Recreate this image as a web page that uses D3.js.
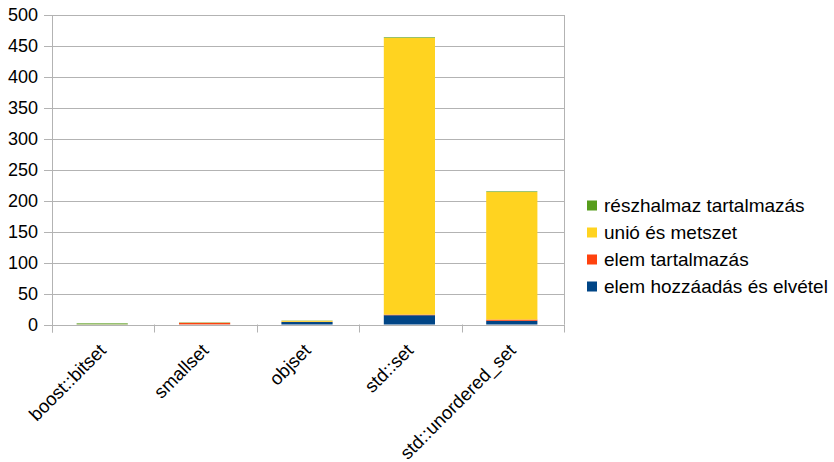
<!DOCTYPE html>
<html>
<head>
<meta charset="utf-8">
<script src="https://cdn.jsdelivr.net/npm/d3@7"></script>
<style>
  body { margin: 0; background: #fff; }
  text { font-family: "Liberation Sans", Arial, sans-serif; }
</style>
</head>
<body>
<svg id="chart" width="834" height="462"></svg>
<script>
// Categories and stacked series (bottom to top)
const categories = ["boost::bitset", "smallset", "objset", "std::set", "std::unordered_set"];
const seriesNames = ["elem hozzáadás és elvétel", "elem tartalmazás", "unió és metszet", "részhalmaz tartalmazás"];
const addRemove   = [0.1, 0.2, 4.0, 15.0, 6.0];
const contains    = [0.1, 2.5, 0.4, 1.0, 2.0];
const unionInter  = [0.1, 0.1, 1.5, 447.0, 206.0];
const subset      = [1.5, 0.5, 0.4, 1.0, 1.0];
const yTicks      = [0, 50, 100, 150, 200, 250, 300, 350, 400, 450, 500];
const colors      = ["#004586", "#ff420e", "#ffd320", "#579d1c"];

const seriesValues = [addRemove, contains, unionInter, subset];
const rows = categories.map((c, i) => {
  const r = { cat: c };
  seriesNames.forEach((s, j) => r[s] = seriesValues[j][i]);
  return r;
});

const svg = d3.select("#chart");
const pLeft = 52, pRight = 564, pTop = 15, pBottom = 324.5;

const x = d3.scaleBand().domain(categories).range([pLeft, pRight]).paddingInner(0.5).paddingOuter(0.25);
const y = d3.scaleLinear().domain([0, 500]).range([pBottom, pTop]);

// Gridlines
svg.append("g").selectAll("line").data(yTicks).join("line")
  .attr("x1", pLeft - 8).attr("x2", pRight)
  .attr("y1", d => Math.round(y(d)) + 0.5).attr("y2", d => Math.round(y(d)) + 0.5)
  .attr("stroke", "#b3b3b3").attr("stroke-width", 1);

// Right border
svg.append("line").attr("x1", pRight + 0.5).attr("x2", pRight + 0.5)
  .attr("y1", pTop).attr("y2", pBottom).attr("stroke", "#b3b3b3");

// Y axis labels
svg.append("g").selectAll("text").data(yTicks).join("text")
  .attr("x", pLeft - 14).attr("y", d => y(d)).attr("dy", "0.35em")
  .attr("text-anchor", "end").attr("font-size", 18).attr("fill", "#000")
  .text(d => d);

// Stacked bars
const stack = d3.stack().keys(seriesNames)(rows);
svg.append("g").selectAll("g").data(stack).join("g")
  .attr("fill", (d, i) => colors[i])
  .selectAll("rect").data(d => d).join("rect")
  .attr("x", d => x(d.data.cat) - 1)
  .attr("width", x.bandwidth())
  .attr("y", d => y(d[1]))
  .attr("height", d => y(d[0]) - y(d[1]));

// Y axis line and x axis with category ticks
svg.append("line").attr("x1", pLeft + 0.5).attr("x2", pLeft + 0.5)
  .attr("y1", pTop).attr("y2", pBottom + 8).attr("stroke", "#b3b3b3");
svg.append("line").attr("x1", pLeft).attr("x2", pRight + 1)
  .attr("y1", Math.round(pBottom) + 0.5).attr("y2", Math.round(pBottom) + 0.5).attr("stroke", "#b3b3b3");
const bounds = d3.range(categories.length + 1).map(i => pLeft + i * (pRight - pLeft) / categories.length);
svg.append("g").selectAll("line").data(bounds).join("line")
  .attr("x1", d => Math.round(d) + 0.5).attr("x2", d => Math.round(d) + 0.5)
  .attr("y1", pBottom).attr("y2", pBottom + 8).attr("stroke", "#b3b3b3");

// Category labels, rotated
svg.append("g").selectAll("text").data(categories).join("text")
  .attr("transform", d => `translate(${x(d) + x.bandwidth() / 2 + 4},${pBottom + 27}) rotate(-45)`)
  .attr("text-anchor", "end").attr("font-size", 18.5).attr("fill", "#000")
  .text(d => d);

// Legend (top series first)
const legendItems = seriesNames.map((s, i) => ({ name: s, color: colors[i] })).reverse();
const lg = svg.append("g").selectAll("g").data(legendItems).join("g")
  .attr("transform", (d, i) => `translate(587,${205.5 + i * 27})`);
lg.append("rect").attr("x", 0).attr("y", -5).attr("width", 10).attr("height", 10).attr("fill", d => d.color);
lg.append("text").attr("x", 17).attr("y", 0).attr("dy", "0.35em")
  .attr("font-size", 19).attr("fill", "#000").text(d => d.name);
</script>
</body>
</html>
